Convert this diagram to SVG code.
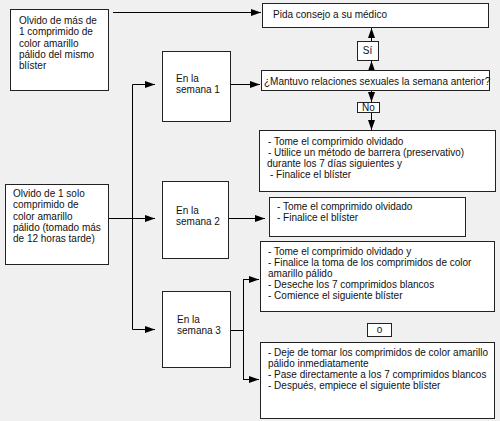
<svg xmlns="http://www.w3.org/2000/svg" width="500" height="421" viewBox="0 0 500 421">
<defs>
<marker id="ah" markerUnits="userSpaceOnUse" markerWidth="11" markerHeight="8" refX="10" refY="3.5" orient="auto">
<path d="M0,0 L10,3.5 L0,7 z" fill="#000"/>
</marker>
<style>
.box{fill:#fff;stroke:#222;stroke-width:1}
.t{font-family:"Liberation Sans",Arial,sans-serif;font-size:10px;fill:#111}
.c{fill:none;stroke:#000;stroke-width:1}
.a{marker-end:url(#ah)}
</style>
</defs>
<rect width="500" height="421" fill="#f0f0f0"/>
<g id="connectors">
<path class="c a" d="M113,12.5 H261"/>
<path class="c" d="M132.5,84.5 V329.5"/>
<path class="c a" d="M132.5,84.5 H155"/>
<path class="c a" d="M108,218.5 H155"/>
<path class="c a" d="M132.5,329.5 H155"/>
<path class="c a" d="M230,84.5 H260"/>
<path class="c a" d="M228,218.5 H265"/>
<path class="c" d="M230,330.5 H243.5"/>
<path class="c" d="M243.5,279 V380"/>
<path class="c a" d="M243.5,279.5 H259"/>
<path class="c a" d="M243.5,379.5 H259"/>
<path class="c a" d="M371.5,41 V28"/>
<path class="c a" d="M371.5,73 V61"/>
<path class="c a" d="M371.5,90 V102"/>
<path class="c a" d="M371.5,113 V130"/>
</g>
<g id="n-mas1">
<rect class="box" x="10.5" y="9.5" width="98" height="81"/>
<text class="t" x="19" y="24">Olvido de más de</text>
<text class="t" x="19" y="35.3">1 comprimido de</text>
<text class="t" x="19" y="46.6">color amarillo</text>
<text class="t" x="19" y="57.9">pálido del mismo</text>
<text class="t" x="19" y="69.2">blíster</text>
</g>
<g id="n-uno">
<rect class="box" x="5.5" y="184.5" width="103" height="80"/>
<text class="t" x="13" y="197">Olvido de 1 solo</text>
<text class="t" x="13" y="208.3">comprimido de</text>
<text class="t" x="13" y="219.6">color amarillo</text>
<text class="t" x="13" y="230.9">pálido (tomado más</text>
<text class="t" x="13" y="242.2">de 12 horas tarde)</text>
</g>
<g id="n-s1">
<rect class="box" x="162.5" y="51.5" width="68" height="70"/>
<text class="t" x="176" y="82">En la</text>
<text class="t" x="176" y="93">semana 1</text>
</g>
<g id="n-s2">
<rect class="box" x="162.5" y="181.5" width="66" height="77"/>
<text class="t" x="176" y="214">En la</text>
<text class="t" x="176" y="225">semana 2</text>
</g>
<g id="n-s3">
<rect class="box" x="162.5" y="291.5" width="68" height="76"/>
<text class="t" x="177" y="323">En la</text>
<text class="t" x="177" y="334">semana 3</text>
</g>
<g id="n-pida">
<rect class="box" x="262.5" y="3.5" width="226" height="24"/>
<text class="t" x="273" y="18">Pida consejo a su médico</text>
</g>
<g id="n-si">
<rect class="box" x="357.5" y="41.5" width="21" height="19"/>
<text class="t" x="367.5" y="54" text-anchor="middle">Sí</text>
</g>
<g id="n-pregunta">
<rect class="box" x="261.5" y="70.5" width="228" height="20"/>
<text class="t" x="264" y="85">¿Mantuvo relaciones sexuales la semana anterior?</text>
</g>
<g id="n-no">
<rect class="box" x="357.5" y="102.5" width="22" height="10"/>
<text class="t" x="368.5" y="111" text-anchor="middle">No</text>
</g>
<g id="n-r1">
<rect class="box" x="259.5" y="130.5" width="236" height="61"/>
<text class="t" x="268" y="145">- Tome el comprimido olvidado</text>
<text class="t" x="268" y="156">- Utilice un método de barrera (preservativo)</text>
<text class="t" x="267" y="167">durante los 7 días siguientes y</text>
<text class="t" x="270" y="178">- Finalice el blíster</text>
</g>
<g id="n-r2">
<rect class="box" x="269.5" y="197.5" width="196" height="39"/>
<text class="t" x="277" y="210">- Tome el comprimido olvidado</text>
<text class="t" x="277" y="221">- Finalice el blíster</text>
</g>
<g id="n-r3a">
<rect class="box" x="260.5" y="241.5" width="234" height="70"/>
<text class="t" x="268" y="255">- Tome el comprimido olvidado y</text>
<text class="t" x="268" y="266">- Finalice la toma de los comprimidos de color</text>
<text class="t" x="268" y="277">amarillo pálido</text>
<text class="t" x="268" y="288">- Deseche los 7 comprimidos blancos</text>
<text class="t" x="268" y="299">- Comience el siguiente blíster</text>
</g>
<g id="n-o">
<rect class="box" x="367.5" y="323.5" width="24" height="13"/>
<text class="t" x="379.5" y="333" text-anchor="middle">o</text>
</g>
<g id="n-r3b">
<rect class="box" x="260.5" y="342.5" width="234" height="76"/>
<text class="t" x="268" y="356">- Deje de tomar los comprimidos de color amarillo</text>
<text class="t" x="268" y="367">pálido inmediatamente</text>
<text class="t" x="268" y="378">- Pase directamente a los 7 comprimidos blancos</text>
<text class="t" x="268" y="389">- Después, empiece el siguiente blíster</text>
</g>
</svg>
